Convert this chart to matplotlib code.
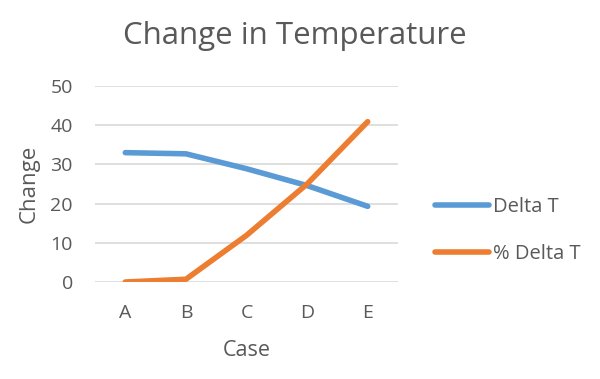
import matplotlib
matplotlib.use("Agg")
import matplotlib.pyplot as plt

# ── Data ──────────────────────────────────────────────
cases = ["A", "B", "C", "D", "E"]
delta_t = [33.0, 32.7, 28.9, 24.6, 19.3]
pct_delta_t = [0.0, 0.7, 11.9, 25.0, 40.9]
y_ticks = [0, 10, 20, 30, 40, 50]

# ── Style ─────────────────────────────────────────────
TEXT = "#595959"
GRID = "#D9D9D9"
BLUE = "#5B9BD5"
ORANGE = "#ED7D31"

plt.rcParams.update({
    "font.family": ["Open Sans", "DejaVu Sans"],
    "font.size": 14,
    "text.color": TEXT,
    "xtick.color": TEXT,
    "ytick.color": TEXT,
    "axes.labelcolor": TEXT,
})

fig = plt.figure(figsize=(6, 3.79), dpi=100)
ax = fig.add_axes([95 / 600, 1 - 282 / 379, 303 / 600, 196 / 379])

x = list(range(len(cases)))
ax.plot(x, delta_t, color=BLUE, lw=4, solid_capstyle="round",
        solid_joinstyle="round", label="Delta T", zorder=3)
ax.plot(x, pct_delta_t, color=ORANGE, lw=4, solid_capstyle="round",
        solid_joinstyle="round", label="% Delta T", zorder=4)

ax.set_xlim(-0.5, len(cases) - 0.5)
ax.set_ylim(0, 50)
ax.set_xticks(x)
ax.set_xticklabels(cases)
ax.set_yticks(y_ticks)
for yv in y_ticks:
    ax.axhline(yv, color=GRID, lw=1.2, zorder=1)
for s in ax.spines.values():
    s.set_visible(False)
ax.tick_params(axis="both", length=0, labelsize=14)
ax.tick_params(axis="x", pad=16)
ax.tick_params(axis="y", pad=16)

ax.set_xlabel("Case", fontsize=15.5, va="center")
ax.xaxis.set_label_coords(0.5, -0.347)
ax.set_ylabel("Change", fontsize=16, va="center")
ax.yaxis.set_label_coords(-0.218, 0.5)

fig.text(295 / 600, 1 - 36 / 379, "Change in Temperature",
         ha="center", va="center", fontsize=22.5, color=TEXT)

ax.legend(loc="center left", bbox_to_anchor=(435 / 600, 1 - 230.5 / 379),
          bbox_transform=fig.transFigure, frameon=False, fontsize=14.5,
          handlelength=2.7, handletextpad=0.2, labelspacing=1.3,
          borderpad=0, borderaxespad=0)

fig.savefig("out.png", dpi=100, facecolor="white")
